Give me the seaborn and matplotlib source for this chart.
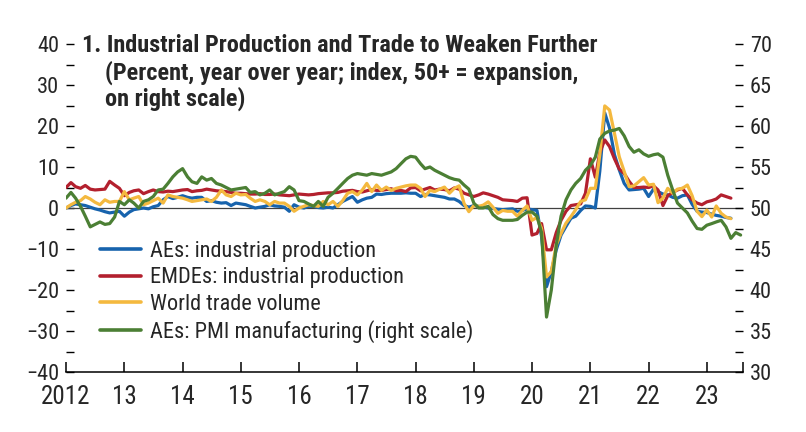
import matplotlib
matplotlib.use("Agg")
import matplotlib.pyplot as plt
import matplotlib.dates as mdates
from matplotlib.ticker import FixedLocator, MultipleLocator
import pandas as pd
import seaborn as sns

# ---------------- data (monthly, starting Jan 2012) ----------------
start_month = "2012-01-01"

ae_ip = [
    0.0, 0.6, 1.0, 0.8, 0.6, 0.2, -0.2, -0.5, -0.9, -1.2, -1.0, -0.8,
    -2.0, -1.0, -0.4, -0.2, 0.0, -0.2, 0.3, 0.6, 2.0, 2.8, 2.3, 2.6,
    3.0, 2.6, 2.4, 2.6, 2.6, 1.6, 1.8, 1.4, 1.2, 1.3, 0.6, 1.2,
    1.0, 0.8, 0.4, 0.0, 0.2, 0.4, 0.8, 0.5, 0.4, 0.2, -0.8, 0.8,
    0.2, 0.0, 0.4, 0.4, 0.1, 0.0, 0.2, 0.0, 0.8, 1.6, 2.2, 2.8,
    1.4, 2.0, 2.4, 2.6, 3.4, 3.3, 3.5, 3.6, 3.6, 3.6, 3.7, 3.6,
    3.6, 2.8, 3.3, 3.2, 3.0, 2.8, 2.6, 2.2, 2.2, 1.6, 0.6, 0.2,
    0.6, 0.4, 0.2, 0.0, -0.1, -0.3, -0.4, -0.3, -0.2, -0.8, -0.6, -0.2,
    -0.4, -0.6, -7.0, -19.2, -15.5, -10.2, -6.6, -4.5, -2.5, -2.0, -0.6, 0.5,
    0.4, 0.0, 9.0, 23.2, 19.5, 13.0, 9.3, 6.0, 4.4, 4.5, 4.6, 4.8,
    2.8, 4.6, 4.0, 3.4, 3.2, 2.6, 2.4, 3.0, 3.2, 0.9, -0.8, -1.0,
    -1.1, -1.5, -1.8, -2.0, -2.3, -2.5,
]

emde_ip = [
    5.0, 6.2, 5.2, 4.8, 5.5, 4.6, 4.4, 4.5, 4.6, 6.5, 5.6, 4.8,
    3.0, 3.8, 4.2, 4.4, 3.5, 4.0, 4.4, 4.0, 3.9, 4.1, 4.0, 4.2,
    4.4, 4.5, 4.0, 4.2, 4.3, 4.6, 4.4, 4.2, 4.1, 4.0, 3.8, 3.6,
    3.6, 3.5, 3.4, 3.4, 3.5, 3.3, 3.3, 3.4, 3.2, 3.1, 3.0, 3.2,
    3.4, 3.3, 3.2, 3.3, 3.5, 3.6, 3.7, 3.7, 3.8, 4.1, 4.2, 4.3,
    4.0, 3.9, 4.2, 4.5, 4.3, 4.3, 4.5, 4.7, 4.2, 4.3, 4.0, 4.9,
    5.0, 4.2, 4.6, 5.0, 4.4, 4.6, 4.5, 4.2, 4.9, 4.6, 3.6, 3.2,
    2.8, 3.2, 3.7, 3.4, 3.0, 2.6, 2.0, 1.9, 1.8, 1.6, 2.4, 2.5,
    -6.6, -6.2, -3.8, -10.2, -10.2, -6.0, -3.0, -0.8, 0.6, 0.8, 1.0, 3.6,
    12.0, 7.5, 13.5, 16.6, 15.0, 12.0, 9.5, 8.4, 6.5, 5.0, 5.0, 5.1,
    5.0, 5.4, 4.4, 0.6, 3.0, 3.8, 4.4, 4.8, 3.2, 2.0, 1.2, 0.8,
    1.5, 1.8, 2.2, 3.2, 2.8, 2.4,
]

trade_volume = [
    0.0, 0.8, 1.4, 1.8, 2.8, 2.2, 1.4, 0.8, 2.0, 1.4, 1.6, 1.6,
    4.0, 2.0, 2.4, 2.8, 0.8, 1.2, 1.8, 2.4, 1.2, 3.2, 2.8, 2.6,
    2.4, 2.0, 1.6, 1.8, 2.0, 2.2, 1.6, 2.6, 4.4, 3.2, 2.8, 3.6,
    3.2, 3.3, 2.4, 1.6, 2.0, 1.6, 0.8, 1.6, 1.2, 1.2, 0.4, -0.8,
    0.0, 0.4, 0.8, 0.6, 0.4, 1.6, 0.8, 1.6, 0.4, 1.8, 3.6, 4.0,
    3.2, 4.4, 6.0, 4.0, 5.6, 4.3, 5.1, 4.3, 4.8, 5.1, 5.4, 5.6,
    5.6, 4.8, 2.8, 4.3, 4.0, 4.6, 5.1, 3.6, 4.8, 5.4, 1.1, -0.9,
    0.6, 0.4, 0.7, 1.5, 0.2, -1.3, -0.6, -0.8, -0.8, -2.0, -0.6, 0.5,
    -3.0, -2.3, -5.0, -16.8, -15.5, -9.0, -6.2, -3.7, -2.1, -0.4, 1.6, 2.0,
    4.8, 4.8, 13.0, 24.9, 23.9, 18.2, 12.5, 8.9, 5.2, 5.4, 6.4, 7.4,
    5.6, 5.8, 1.3, 2.4, 4.8, 3.6, 4.6, 4.8, 5.6, 3.0, -0.8, -2.1,
    -0.5, -2.2, 0.5, -1.3, -2.2, -2.6,
]

ae_pmi = [
    51.2, 51.9, 51.2, 50.2, 49.0, 47.7, 48.0, 48.3, 48.0, 48.1, 48.9, 50.8,
    50.4, 51.0, 50.6, 50.0, 50.8, 51.0, 51.4, 52.2, 52.3, 53.0, 53.8, 54.4,
    54.8, 53.8, 53.2, 53.0, 53.8, 53.4, 53.6, 53.0, 52.8, 52.5, 52.2, 52.3,
    52.4, 52.5, 51.9, 52.0, 51.6, 51.8, 52.2, 51.6, 51.8, 52.0, 52.6, 52.2,
    50.9, 50.8, 50.5, 50.2, 50.8, 50.2, 51.3, 51.8, 52.4, 53.0, 53.6, 54.0,
    54.2, 54.1, 54.0, 54.2, 54.1, 54.0, 54.2, 54.4, 54.8, 55.4, 56.0, 56.3,
    56.2, 55.4, 54.8, 55.0, 54.6, 54.3, 54.0, 53.7, 53.5, 53.4, 52.8, 52.3,
    50.6, 50.0, 50.0, 50.2, 49.2, 48.7, 48.5, 48.5, 48.5, 48.6, 49.1, 49.5,
    49.5, 49.0, 47.0, 36.7, 40.0, 45.5, 49.0, 51.0, 52.2, 53.0, 53.6, 54.6,
    55.2, 56.2, 58.4, 59.1, 59.4, 59.5, 59.7, 58.8, 57.5, 56.8, 57.1, 56.6,
    56.3, 56.5, 56.6, 56.2, 54.0, 52.2, 50.6, 50.0, 49.4, 48.4, 47.5, 47.4,
    47.9, 48.1, 48.3, 48.5, 47.7, 46.3, 47.0, 46.7,
]

series_names = [
    "AEs: industrial production",
    "EMDEs: industrial production",
    "World trade volume",
    "AEs: PMI manufacturing (right scale)",
]
series_colors = ["#1763ad", "#b3202e", "#f4b93f", "#4b7f34"]
year_labels = ["2012", "13", "14", "15", "16", "17", "18", "19", "20", "21", "22", "23"]
title_lines = [
    "1. Industrial Production and Trade to Weaken Further",
    "(Percent, year over year; index, 50+ = expansion,",
    "on right scale)",
]

# ---------------- style ----------------
sns.set_style("white")
plt.rcParams["font.family"] = ["Roboto Condensed", "DejaVu Sans"]
plt.rcParams["axes.unicode_minus"] = True

dates_ip = pd.date_range(start_month, periods=len(ae_ip), freq="MS")
dates_pmi = pd.date_range(start_month, periods=len(ae_pmi), freq="MS")

left_df = pd.concat([
    pd.DataFrame({"date": dates_ip, "value": ae_ip, "series": series_names[0]}),
    pd.DataFrame({"date": dates_ip, "value": emde_ip, "series": series_names[1]}),
    pd.DataFrame({"date": dates_ip, "value": trade_volume, "series": series_names[2]}),
])
right_df = pd.DataFrame({"date": dates_pmi, "value": ae_pmi, "series": series_names[3]})

W, H = 806, 432
fig = plt.figure(figsize=(W / 100, H / 100), dpi=100)
x0, x1, ytop, ybot = 66, 742.7, 44, 372
ax = fig.add_axes([x0 / W, 1 - ybot / H, (x1 - x0) / W, (ybot - ytop) / H])

lw = 2.3
sns.lineplot(data=left_df, x="date", y="value", hue="series",
             hue_order=series_names[:3], palette=series_colors[:3],
             estimator=None, linewidth=lw, ax=ax, legend=False)
ax2 = ax.twinx()
sns.lineplot(data=right_df, x="date", y="value", color=series_colors[3],
             estimator=None, linewidth=lw, ax=ax2, legend=False)

handles = list(ax.get_lines()[:3]) + list(ax2.get_lines()[:1])
ax.axhline(0, color="#404040", linewidth=0.9, zorder=1)

# axes limits
xmin = pd.Timestamp("2012-01-01")
xmax = pd.Timestamp("2023-08-14")
ax.set_xlim(xmin, xmax)
ax.set_ylim(-40, 40)
ax2.set_ylim(30, 70)

# x ticks
year_ticks = [mdates.date2num(pd.Timestamp(f"{2012 + i}-01-01")) for i in range(len(year_labels))]
ax.xaxis.set_major_locator(FixedLocator(year_ticks))
ax.set_xticklabels(year_labels)
ax.xaxis.set_minor_locator(FixedLocator([mdates.date2num(xmax)]))
ax.tick_params(axis="x", which="both", direction="in", length=7, width=1.1,
               color="black", bottom=True, labelsize=18, pad=9)

# y ticks
ax.yaxis.set_major_locator(MultipleLocator(10))
ax.yaxis.set_minor_locator(MultipleLocator(5))
ax.tick_params(axis="y", which="both", direction="in", length=5.5, width=1.0,
               color="black", left=True, labelsize=16, pad=5)
ax2.yaxis.set_major_locator(MultipleLocator(5))
ax2.yaxis.set_minor_locator(MultipleLocator(2.5))
ax2.tick_params(axis="y", which="both", direction="in", length=5.5, width=1.0,
                color="black", right=True, labelsize=16, pad=5)

for a in (ax, ax2):
    for s in ("top", "left", "right"):
        a.spines[s].set_visible(False)
    a.set_xlabel("")
    a.set_ylabel("")
ax.spines["bottom"].set_visible(True)
ax.spines["bottom"].set_color("black")
ax.spines["bottom"].set_linewidth(1.1)
ax2.spines["bottom"].set_visible(False)

# legend
leg = ax.legend(handles, series_names, loc="upper left",
                bbox_to_anchor=((100 - x0) / (x1 - x0), (ybot - 241) / (ybot - ytop)),
                frameon=False, fontsize=16, handlelength=1.85, handletextpad=0.4,
                labelspacing=0.24, borderpad=0, borderaxespad=0)
for line in leg.get_lines():
    line.set_linewidth(2.6)

# title
for i, (xp, yp) in enumerate([(82, 52), (105, 80), (105, 106)]):
    fig.text(xp / W, 1 - yp / H, title_lines[i], fontsize=17.5, fontweight="bold",
             va="baseline", ha="left")

fig.savefig("out.png", dpi=100)
